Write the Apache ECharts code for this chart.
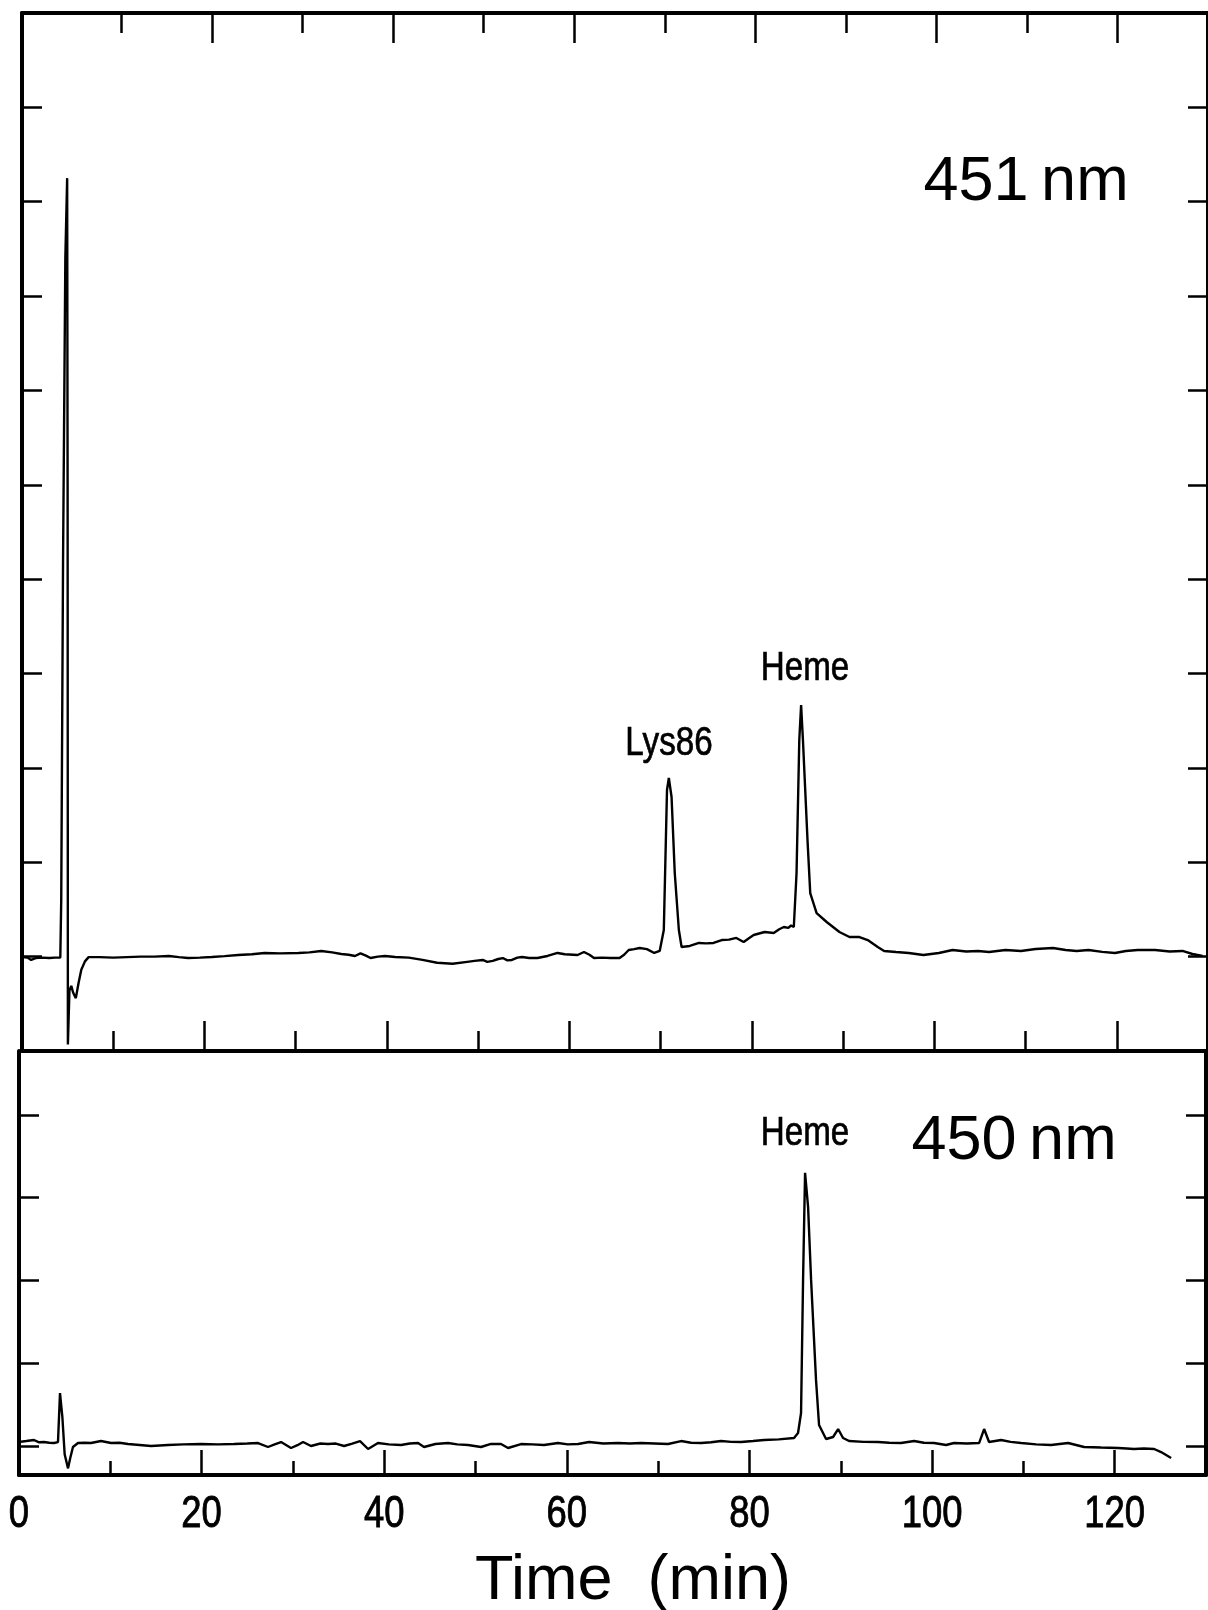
<!DOCTYPE html>
<html>
<head>
<meta charset="utf-8">
<title>HPLC chromatograms at 451 nm and 450 nm</title>
<script src="https://cdn.jsdelivr.net/npm/echarts@6/dist/echarts.min.js"></script>
<style>
  html, body { margin: 0; padding: 0; background: #ffffff; }
  #chart { width: 1208px; height: 1610px; }
</style>
</head>
<body>
<div id="chart"></div>
<script>
// Elution time axis (min)
const timeRange = [0, 130];
const timeTickLabels = [0, 20, 40, 60, 80, 100, 120];
const timeMajorTicks = [20, 40, 60, 80, 100, 120];
const timeMinorTicks = [10, 30, 50, 70, 90, 110];

// Detector response, arbitrary units (one unit per y tick)
const absRange451 = [0, 11];
const absTicks451 = [1, 2, 3, 4, 5, 6, 7, 8, 9, 10];
const absRange450 = [-0.35, 4.77];
const absTicks450 = [0, 1, 2, 3, 4];

// Chromatogram detected at 451 nm: [time (min), response]
const trace451 = [
  [0, 0.996], [0.6, 0.99], [1.0, 0.965], [1.5, 0.985], [2.2, 0.99], [3.0, 0.985], [3.6, 0.99],
  [4.2, 0.99], [4.3, 1.6], [4.5, 5.2], [4.75, 8.4], [4.95, 9.25], [5.0, 6.0], [5.03, 0.07],
  [5.2, 0.64], [5.4, 0.69], [5.6, 0.62], [5.9, 0.56], [6.2, 0.72], [6.5, 0.86], [6.9, 0.95],
  [7.3, 0.995], [8.5, 0.995], [10, 0.99], [11.5, 0.995], [13, 1.0], [14.5, 1.0], [16.1, 1.007],
  [17.2, 0.995], [18.2, 0.985], [19.5, 0.99], [20.8, 0.996], [22.2, 1.005], [23.7, 1.017],
  [25.2, 1.025], [26.6, 1.039], [28.3, 1.035], [30.3, 1.039], [31.5, 1.045], [32.8, 1.06],
  [34.0, 1.045], [35.0, 1.028], [35.8, 1.02], [36.5, 1.007], [37.1, 1.035], [37.7, 1.01],
  [38.2, 0.986], [39.0, 1.0], [39.8, 1.007], [40.9, 0.996], [42.4, 0.99], [43.9, 0.965],
  [45.5, 0.935], [47.2, 0.925], [48.8, 0.945], [49.6, 0.955], [50.5, 0.965], [51.0, 0.945],
  [51.6, 0.955], [52.2, 0.975], [52.7, 0.985], [53.2, 0.96], [53.7, 0.965], [54.3, 0.99],
  [54.8, 0.996], [55.6, 0.985], [56.5, 0.986], [57.6, 1.007], [58.7, 1.039], [59.5, 1.025],
  [60.9, 1.017], [61.6, 1.049], [62.2, 1.02], [62.7, 0.986], [63.6, 0.99], [64.5, 0.985],
  [65.5, 0.986], [66.0, 1.02], [66.5, 1.07], [67.1, 1.08], [67.7, 1.092], [68.5, 1.08],
  [69.3, 1.039], [69.9, 1.06], [70.35, 1.282], [70.7, 2.766], [70.9, 2.893], [71.2, 2.692],
  [71.55, 1.886], [72.0, 1.282], [72.3, 1.102], [73.2, 1.113], [74.2, 1.145], [75.0, 1.14],
  [75.8, 1.145], [76.7, 1.176], [77.5, 1.18], [78.3, 1.198], [79.1, 1.155], [79.6, 1.19],
  [80.2, 1.229], [80.8, 1.245], [81.4, 1.261], [82.4, 1.251], [83.0, 1.29], [83.5, 1.314],
  [84.0, 1.304], [84.3, 1.33], [84.6, 1.314], [84.9, 1.886], [85.2, 3.296], [85.4, 3.667],
  [85.6, 3.296], [86.1, 2.236], [86.4, 1.674], [87.1, 1.462], [88.2, 1.367], [89.6, 1.261],
  [90.7, 1.208], [91.8, 1.208], [92.7, 1.176], [93.8, 1.102], [94.5, 1.06], [95.8, 1.049],
  [97.2, 1.039], [98.8, 1.017], [100.5, 1.039], [102.0, 1.07], [103.5, 1.055], [104.8, 1.06],
  [106.0, 1.049], [107.8, 1.07], [109.5, 1.06], [111.1, 1.081], [113.0, 1.092], [114.4, 1.07],
  [115.6, 1.06], [116.9, 1.07], [118.4, 1.05], [119.8, 1.039], [121.0, 1.06], [122.3, 1.07],
  [124.2, 1.07], [125.8, 1.055], [127.2, 1.06], [128.3, 1.028], [129.4, 1.007]
];

// Chromatogram detected at 450 nm: [time (min), response]
const trace450 = [
  [0, 0.048], [0.8, 0.06], [1.64, 0.073], [2.2, 0.045], [2.74, 0.048], [3.3, 0.04], [3.83, 0.036],
  [4.27, 0.048], [4.49, 0.64], [4.75, 0.35], [5.0, -0.1], [5.37, -0.27], [5.6, -0.15],
  [5.91, -0.012], [6.46, 0.036], [7.2, 0.04], [7.89, 0.036], [8.98, 0.06], [10.08, 0.036],
  [11.0, 0.04], [11.94, 0.024], [13.2, 0.012], [14.46, 0.0], [16.32, 0.012], [18.0, 0.02],
  [19.93, 0.024], [21.8, 0.02], [23.55, 0.024], [25.0, 0.03], [26.18, 0.036], [27.27, -0.012],
  [28.0, 0.02], [28.7, 0.048], [29.79, -0.024], [30.5, 0.01], [31.11, 0.048], [31.98, 0.0],
  [33.0, 0.03], [33.84, 0.024], [34.7, 0.03], [35.6, 0.0], [36.5, 0.03], [37.35, 0.06],
  [38.23, -0.036], [39.32, 0.036], [40.5, 0.02], [41.84, 0.012], [42.8, 0.03], [43.7, 0.036],
  [44.36, -0.012], [45.6, 0.024], [46.99, 0.036], [48.0, 0.02], [49.18, 0.012], [50.6, -0.012],
  [51.6, 0.024], [52.79, 0.024], [53.56, -0.024], [54.98, 0.024], [56.2, 0.02], [57.5, 0.012],
  [59.04, 0.036], [60.1, 0.02], [61.23, 0.024], [62.43, 0.048], [64.0, 0.03], [65.61, 0.036],
  [66.9, 0.03], [68.13, 0.036], [69.6, 0.03], [71.08, 0.024], [72.51, 0.06], [73.6, 0.04],
  [74.7, 0.036], [75.8, 0.045], [76.89, 0.06], [78.0, 0.05], [79.08, 0.048], [80.4, 0.06],
  [81.6, 0.073], [83.2, 0.08], [84.88, 0.097], [85.32, 0.157], [85.65, 0.399], [85.87, 2.006],
  [86.09, 3.299], [86.42, 2.888], [86.75, 2.006], [87.29, 0.798], [87.62, 0.254], [88.06, 0.157],
  [88.39, 0.085], [89.16, 0.109], [89.71, 0.205], [90.25, 0.097], [90.91, 0.06], [92.5, 0.05],
  [94.08, 0.048], [95.3, 0.04], [96.6, 0.036], [98.03, 0.06], [99.1, 0.04], [100.22, 0.036],
  [101.53, 0.012], [102.41, 0.036], [103.8, 0.03], [105.15, 0.036], [105.7, 0.205], [106.24, 0.048],
  [107.56, 0.073], [108.6, 0.05], [109.75, 0.036], [111.4, 0.02], [113.03, 0.012], [114.9, 0.036],
  [116.65, -0.012], [118.5, -0.018], [120.37, -0.024], [121.3, -0.03], [122.12, -0.036],
  [123.2, -0.03], [124.32, -0.036], [125.08, -0.073], [126.18, -0.145]
];

const INK = '#000000';
const SANS = "'Liberation Sans', Arial, Helvetica, sans-serif";
const NARROW_SCALE = 0.81;   // condensed lettering for peak names and tick labels

// One x axis per tick family (long ticks every 20 min, short ticks in between)
function timeAxis(gridIndex, position, ticks, tickLength, showLine) {
  return {
    type: 'value', gridIndex, position,
    min: timeRange[0], max: timeRange[1],
    axisLine: { show: showLine, onZero: false, lineStyle: { color: INK, width: 4 } },
    axisTick: ticks ? { show: true, inside: true, length: tickLength, customValues: ticks,
                        lineStyle: { color: INK, width: 2.5 } } : { show: false },
    axisLabel: { show: false },
    splitLine: { show: false }
  };
}

function responseAxis(gridIndex, position, range, ticks, visible) {
  return {
    type: 'value', gridIndex, position, show: visible,
    min: range[0], max: range[1],
    axisLine: { show: true, onZero: false, lineStyle: { color: INK, width: 4 } },
    axisTick: { show: true, inside: true, length: 20, customValues: ticks,
                lineStyle: { color: INK, width: 2.5 } },
    axisLabel: { show: false },
    splitLine: { show: false }
  };
}

function label(text, x, y, size, scaleX, weight) {
  return {
    type: 'text', x, y, scaleX: scaleX || 1,
    style: {
      text, fontFamily: SANS, fontSize: size, fill: INK,
      stroke: weight ? INK : null, lineWidth: weight || 0,
      align: 'center', verticalAlign: 'middle'
    }
  };
}

const chart = echarts.init(document.getElementById('chart'), null, { renderer: 'canvas' });

chart.setOption({
  animation: false,
  backgroundColor: '#ffffff',
  grid: [
    { left: 22, top: 13, width: 1190, height: 1038 },
    { left: 19, top: 1051, width: 1187, height: 424 },
    // top tick row of the upper panel (printed slightly offset on the chart paper)
    { left: 31, top: 13, width: 1190, height: 1038 }
  ],
  xAxis: [
    timeAxis(0, 'bottom', timeMajorTicks, 30, true),
    timeAxis(0, 'bottom', timeMinorTicks, 20, false),
    timeAxis(0, 'top', null, 0, true),
    timeAxis(2, 'top', timeMajorTicks, 30, false),
    timeAxis(1, 'bottom', timeMajorTicks, 25, true),
    timeAxis(1, 'bottom', timeMinorTicks, 14, false),
    timeAxis(2, 'top', timeMinorTicks, 20, false)
  ],
  yAxis: [
    responseAxis(0, 'left', absRange451, absTicks451, true),
    responseAxis(0, 'right', absRange451, absTicks451, true),
    responseAxis(1, 'left', absRange450, absTicks450, true),
    responseAxis(1, 'right', absRange450, absTicks450, true),
    responseAxis(2, 'left', absRange451, absTicks451, false)
  ],
  series: [
    {
      name: '451 nm', type: 'line', xAxisIndex: 0, yAxisIndex: 0,
      data: trace451, showSymbol: false, smooth: false,
      lineStyle: { color: INK, width: 2.4 }
    },
    {
      name: '450 nm', type: 'line', xAxisIndex: 4, yAxisIndex: 2,
      data: trace450, showSymbol: false, smooth: false,
      lineStyle: { color: INK, width: 2.4 }
    }
  ]
});

// Time tick labels, placed under the lower panel's ticks via its own axis scale
const tickLabelGraphics = timeTickLabels.map(function (t) {
  const p = chart.convertToPixel({ xAxisIndex: 4, yAxisIndex: 2 }, [t, absRange450[0]]);
  return label(String(t), p[0], p[1] + 40, 45, NARROW_SCALE, 0.9);
});

chart.setOption({
  graphic: tickLabelGraphics.concat([
    label('451\u2009nm', 1026, 183, 63),
    label('450\u2009nm', 1014, 1142, 63),
    label('Heme', 805, 669, 41, NARROW_SCALE, 0.7),
    label('Lys86', 669, 744, 41, NARROW_SCALE, 0.7),
    label('Heme', 805, 1134, 41, NARROW_SCALE, 0.7),
    label('Time  (min)', 633, 1582, 63)
  ])
});
</script>
</body>
</html>
